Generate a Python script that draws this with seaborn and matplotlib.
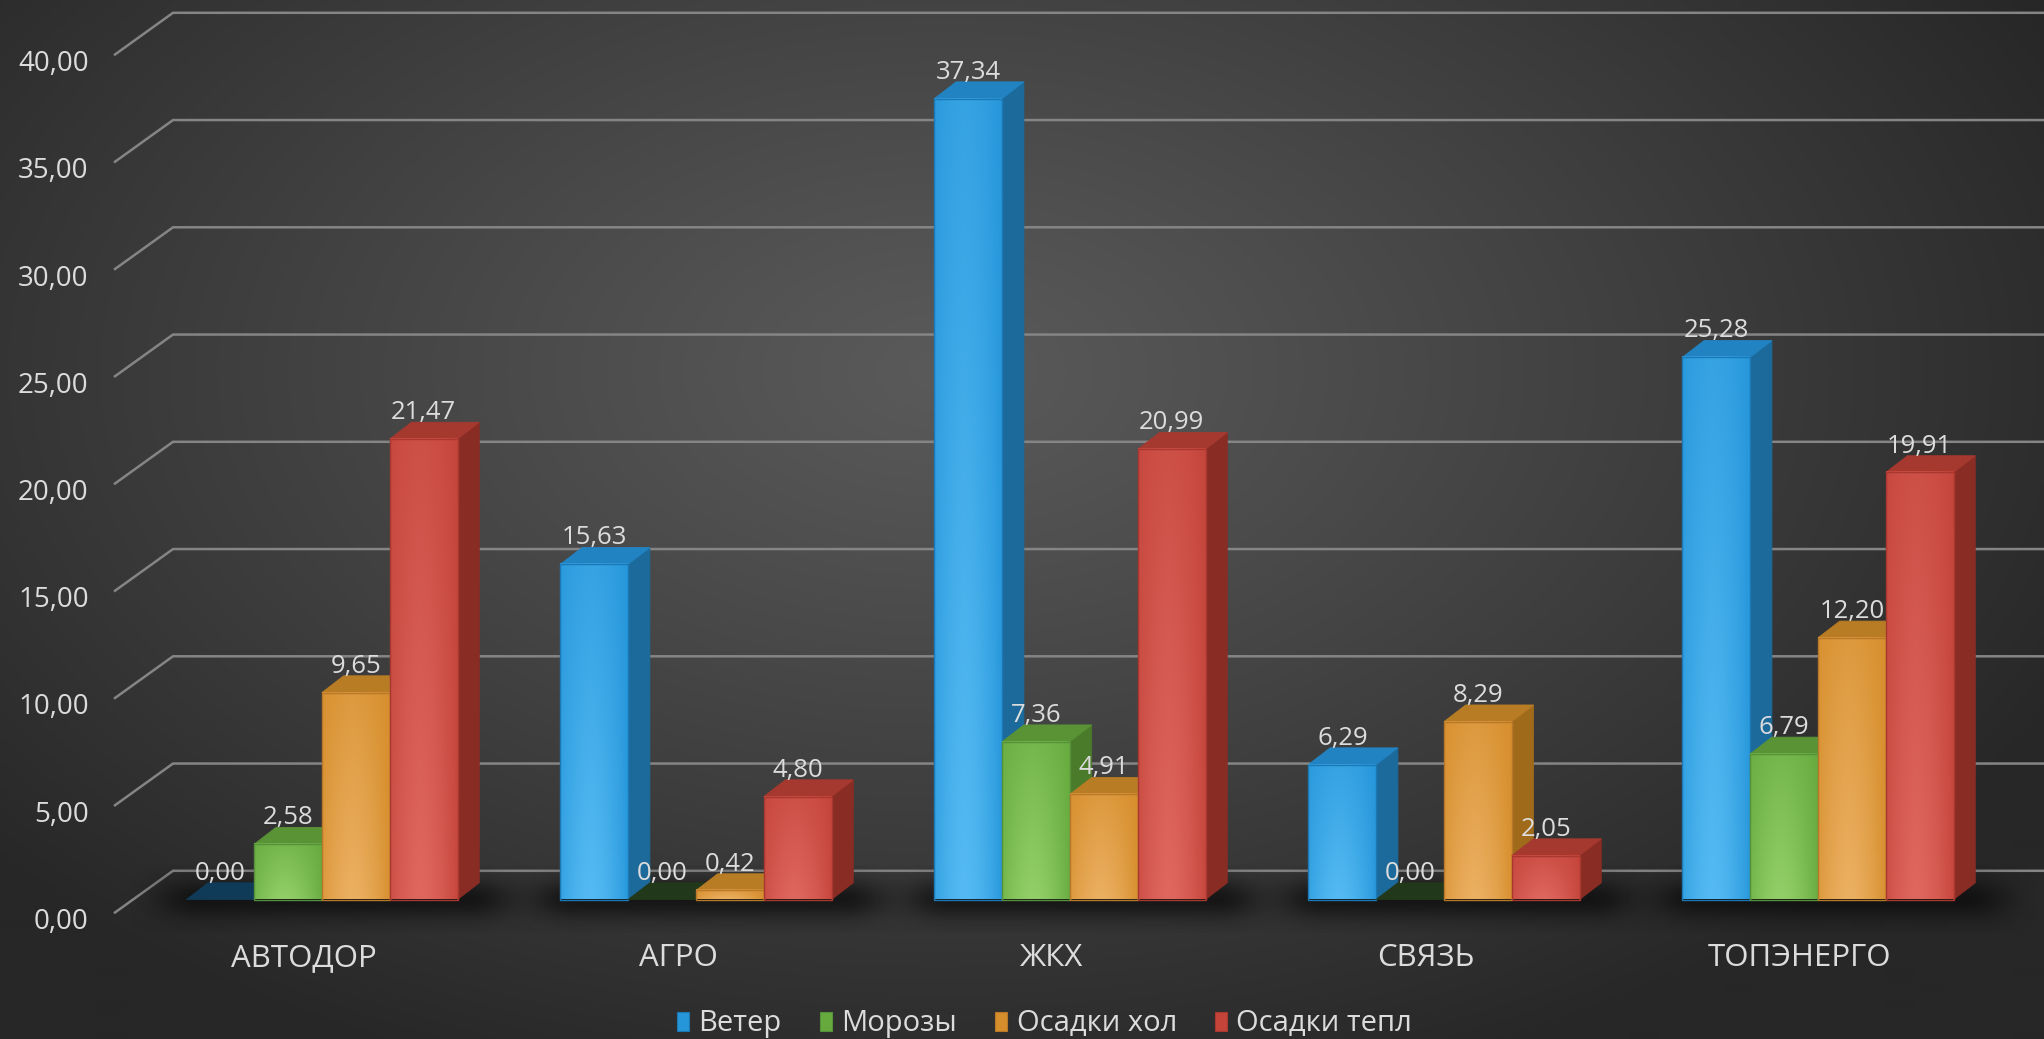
import numpy as np
import pandas as pd
import matplotlib
matplotlib.use("Agg")
import matplotlib.pyplot as plt
import seaborn as sns
from matplotlib.patches import Polygon, Patch
from matplotlib.colors import to_rgb

# ---------------- data ----------------
categories = ["АВТОДОР", "АГРО", "ЖКХ", "СВЯЗЬ", "ТОПЭНЕРГО"]
series_names = ["Ветер", "Морозы", "Осадки хол", "Осадки тепл"]
veter = [0.00, 15.63, 37.34, 6.29, 25.28]
morozy = [2.58, 0.00, 7.36, 0.00, 6.79]
osadki_hol = [9.65, 0.42, 4.91, 8.29, 12.20]
osadki_tepl = [21.47, 4.80, 20.99, 2.05, 19.91]
y_ticks = [0, 5, 10, 15, 20, 25, 30, 35, 40]

# ---------------- styles ----------------
front_base = ["#2596da", "#66aa3e", "#d68d2b", "#c4443a"]
front_light = ["#55baf3", "#93cf68", "#ebb062", "#df675e"]
side_col = ["#1b6a9b", "#4a7b2b", "#a06a1b", "#892c24"]
top_col = ["#2283c2", "#5a9236", "#b87c24", "#a6392f"]
zero_col = ["#0f3a58", "#22381a", "#6a4a14", "#5a1e1a"]
edge_col = ["#1c78b4", "#55903a", "#b8782a", "#a8382f"]
TEXT = "#dcdcdc"
GRID = "#858585"
FONT = ["Open Sans", "DejaVu Sans"]

df = pd.DataFrame({
    "cat": np.repeat(categories, 4),
    "series": series_names * len(categories),
    "val": np.array([veter, morozy, osadki_hol, osadki_tepl]).T.ravel(),
})

W, H, DPI = 2044, 1039, 100
PX_X = 374.0   # pixels per category unit
PX_Y = 21.45   # pixels per value unit
BASE_PX = 899.5   # pixel row of the bars' zero line
AX_BOTTOM_PX = 935.0

def dxp(p):
    return p / PX_X

def dyp(p):
    return p / PX_Y

plt.rcParams["font.family"] = FONT
fig = plt.figure(figsize=(W / DPI, H / DPI), dpi=DPI)

# background radial gradient
bg = fig.add_axes([0, 0, 1, 1])
yy, xx = np.mgrid[0:H:4, 0:W:4]
r = np.sqrt(((xx - 940) / 1250.0) ** 2 + ((yy - 370) / 760.0) ** 2)
r = np.clip(r, 0, 1) ** 1.1
c0 = np.array(to_rgb("#5a5a5a"))
c1 = np.array(to_rgb("#272727"))
img = c0[None, None, :] * (1 - r[..., None]) + c1[None, None, :] * r[..., None]
bg.imshow(img, extent=[0, 1, 0, 1], aspect="auto", interpolation="bilinear")
bg.set_axis_off()
bg.set_zorder(0)

ax = fig.add_axes([115 / W, (H - AX_BOTTOM_PX) / H, (W - 115) / W, AX_BOTTOM_PX / H])
ax.set_zorder(1)
ax.patch.set_alpha(0)

sns.barplot(data=df, x="cat", y="val", hue="series", order=categories,
            hue_order=series_names, palette=front_base, saturation=1,
            width=0.725, gap=0, errorbar=None, linewidth=0, legend=False, ax=ax)

DDX, DDY = dxp(21.7), dyp(16.7)

def fmt(v):
    return f"{v:.2f}".replace(".", ",")

# front-face gradient pattern
gu = np.linspace(0, 1, 24)
gv = np.linspace(0, 1, 60)
U, V = np.meshgrid(gu, gv)
tx = np.clip(1 - np.abs((U - 0.45) / 0.6) ** 1.6, 0, 1)
mix = tx * (0.35 + 0.65 * V)

group_ext = {}
for k, cont in enumerate(ax.containers):
    zb = 3 + k * 0.1
    for j, bar in enumerate(cont):
        x, w, h = bar.get_x(), bar.get_width(), bar.get_height()
        gl, gr = group_ext.get(j, (np.inf, -np.inf))
        group_ext[j] = (min(gl, x), max(gr, x + w + DDX))
        if h > 0:
            side = Polygon([(x + w, 0), (x + w + DDX, DDY), (x + w + DDX, h + DDY), (x + w, h)],
                           closed=True, facecolor=side_col[k], edgecolor=side_col[k], lw=0.6, zorder=zb)
            top = Polygon([(x, h), (x + DDX, h + DDY), (x + w + DDX, h + DDY), (x + w, h)],
                          closed=True, facecolor=top_col[k], edgecolor=top_col[k], lw=0.6, zorder=zb)
            ax.add_patch(side)
            ax.add_patch(top)
            b = np.array(to_rgb(front_base[k]))
            l = np.array(to_rgb(front_light[k]))
            arr = b[None, None, :] * (1 - mix[..., None]) + l[None, None, :] * mix[..., None]
            ax.imshow(arr, extent=(x, x + w, 0, h), aspect="auto", interpolation="bilinear",
                      zorder=zb + 0.05)
            bar.set_facecolor("none")
            bar.set_edgecolor(edge_col[k])
            bar.set_linewidth(1.0)
            bar.set_zorder(zb + 0.06)
        else:
            top = Polygon([(x, 0), (x + DDX, DDY), (x + w + DDX, DDY), (x + w, 0)],
                          closed=True, facecolor=zero_col[k], edgecolor=zero_col[k], lw=0.6, zorder=zb)
            ax.add_patch(top)
        ax.annotate(fmt(h), xy=(x + w / 2, h), xytext=(0, 19), textcoords="offset points",
                    ha="center", va="center", fontsize=18.5, color=TEXT, zorder=10)

# soft floor shadows under each group
sx = np.linspace(0, 1, 300)
sy = np.linspace(0, 1, 80)
SX, SY = np.meshgrid(sx, sy)
for j, (gl, gr) in group_ext.items():
    x0, x1 = gl - dxp(60), gr + dxp(65)
    y0, y1 = -dyp(34), dyp(34)
    span = x1 - x0
    edge = dxp(75) / span
    ax_x = np.clip(np.minimum(SX / edge, (1 - SX) / edge), 0, 1)
    ax_x = ax_x * ax_x * (3 - 2 * ax_x)
    ax_y = np.exp(-((SY - 0.5) / 0.3) ** 2)
    alpha = 0.72 * ax_x * ax_y
    sh = np.zeros((80, 300, 4))
    sh[..., 3] = alpha
    sh[..., :3] = 0.04
    ax.imshow(sh, extent=(x0, x1, y0, y1), aspect="auto", interpolation="bilinear", zorder=2)

# axis geometry
YF = -dyp(13)      # front plane offset
YW = dyp(28.7)     # back wall offset
XL = dxp(115 - 322)
XR = dxp(W - 322)
XW = dxp(173 - 322)
for v in y_ticks:
    ax.plot([XL, XW, XR], [v + YF, v + YW, v + YW], color=GRID, lw=1.8, zorder=1,
            clip_on=False, solid_joinstyle="miter")

ax.set_yticks([v + YF - dyp(6) for v in y_ticks])
ax.set_yticklabels([fmt(v) for v in y_ticks])
ax.set_xticks([i - dxp(18) for i in range(len(categories))])
ax.set_xticklabels(categories)
ax.set_xlim(XL, XR)
ax.set_ylim(-dyp(AX_BOTTOM_PX - BASE_PX), dyp(BASE_PX))
ax.tick_params(axis="y", length=0, pad=19, labelsize=20, labelcolor=TEXT)
ax.tick_params(axis="x", length=0, pad=22 - (AX_BOTTOM_PX - 912.5) * 0.72,
               labelsize=22.5, labelcolor=TEXT)
ax.set_xlabel("")
ax.set_ylabel("")
for s in ax.spines.values():
    s.set_visible(False)
ax.grid(False)

handles = [Patch(facecolor=front_base[k], edgecolor=edge_col[k], lw=0.8) for k in range(4)]
fig.legend(handles, series_names, loc="center", bbox_to_anchor=(0.511, 15 / H), ncol=4,
           frameon=False, fontsize=21, labelcolor=TEXT, handlelength=0.42, handleheight=0.62,
           handletextpad=0.32, columnspacing=1.3)

fig.savefig("out.png", dpi=DPI)
